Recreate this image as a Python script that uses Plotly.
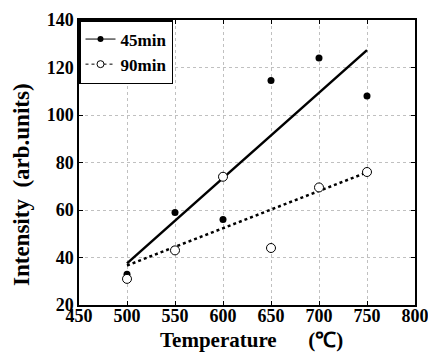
import numpy as np
import plotly.graph_objects as go

temps = [500, 550, 600, 650, 700, 750]
int_45 = [33, 59, 56, 114.5, 124, 108]
int_90 = [31, 43, 74, 44, 69.5, 76]
x_ticks = [450, 500, 550, 600, 650, 700, 750, 800]
y_ticks = [20, 40, 60, 80, 100, 120, 140]

font_fam = "Liberation Serif, Times New Roman, serif"

fig = go.Figure()

# linear fits
for ys, dash in [(int_45, "solid"), (int_90, "dot")]:
    k, b = np.polyfit(temps, ys, 1)
    xf = [temps[0], temps[-1]]
    fig.add_trace(go.Scatter(x=xf, y=[k * v + b for v in xf], mode="lines",
                             line=dict(color="black", width=2.5, dash=dash),
                             showlegend=False, hoverinfo="skip"))

fig.add_trace(go.Scatter(x=temps, y=int_45, mode="markers",
                         marker=dict(color="black", size=7), showlegend=False))
fig.add_trace(go.Scatter(x=temps, y=int_90, mode="markers",
                         marker=dict(color="white", size=9, line=dict(color="black", width=1)),
                         showlegend=False))

# legend entries
fig.add_trace(go.Scatter(x=[None], y=[None], mode="lines+markers", name="<b>45min</b>",
                         line=dict(color="black", width=1),
                         marker=dict(color="black", size=6)))
fig.add_trace(go.Scatter(x=[None], y=[None], mode="lines+markers", name="<b>90min</b>",
                         line=dict(color="black", width=1, dash="dot"),
                         marker=dict(color="white", size=7, line=dict(color="black", width=1))))

axis_common = dict(
    showline=True, linecolor="black", linewidth=1.5, mirror="ticks",
    ticks="inside", ticklen=4, tickcolor="black",
    showgrid=True, gridcolor="#c0c0c0", griddash="dot", gridwidth=1,
    zeroline=False, ticklabeloverflow="allow",
    tickfont=dict(family=font_fam, size=18, color="black"),
)

fig.update_xaxes(range=[450, 800], tickvals=x_ticks,
                 ticktext=["<b>%d</b>" % v for v in x_ticks],
                 ticklabelstandoff=-6,
                 **axis_common)
fig.update_yaxes(range=[20, 140], tickvals=y_ticks,
                 ticktext=["<b>%d</b>" % v for v in y_ticks],
                 **axis_common)

fig.add_annotation(text="<b>Intensity&nbsp;&nbsp;(arb.units)</b>", textangle=-90,
                   xref="paper", yref="paper", x=(21 - 79) / 336, y=(305 - 185) / 285,
                   xanchor="center", yanchor="middle", showarrow=False,
                   font=dict(family=font_fam, size=23, color="black"))
fig.add_annotation(text="<b>Temperature&nbsp;&nbsp;&nbsp;&nbsp;&nbsp;&nbsp;(℃)</b>",
                   xref="paper", yref="paper", x=(252 - 79) / 336, y=(305 - 354) / 285,
                   xanchor="center", yanchor="bottom", showarrow=False,
                   font=dict(family=font_fam, size=21, color="black"))

fig.update_layout(
    width=428, height=354,
    margin=dict(l=79, r=13, t=20, b=49, autoexpand=False),
    font=dict(family=font_fam, color="black"),
    paper_bgcolor="white", plot_bgcolor="white",
    legend=dict(x=0, y=1, xanchor="left", yanchor="top",
                bgcolor="white", bordercolor="black", borderwidth=1.5,
                font=dict(family=font_fam, size=17, color="black"),
                itemwidth=30, tracegroupgap=0),
)

fig.write_html("out.html")
